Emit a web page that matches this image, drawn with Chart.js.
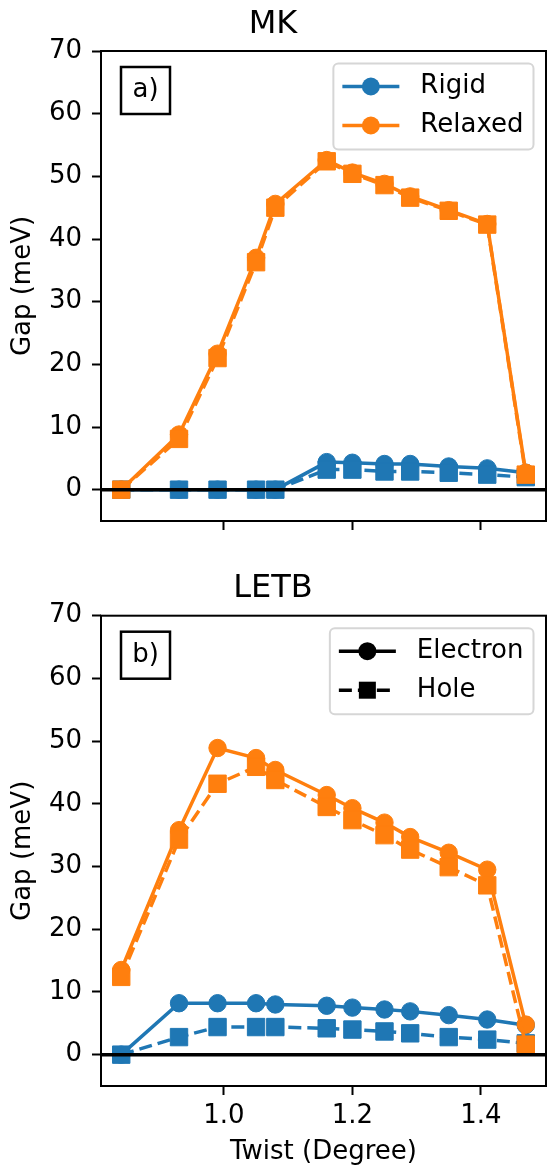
<!DOCTYPE html>
<html>
<head>
<meta charset="utf-8">
<script src="https://cdn.jsdelivr.net/npm/chart.js@4.4.1/dist/chart.umd.min.js"></script>
<style>
  html, body { margin: 0; padding: 0; background: #fff; overflow: hidden; }
  #wrap { position: relative; width: 547px; height: 1167px; }
  .panel { position: absolute; left: 0; width: 547px; }
  #pa { top: 0; height: 560px; }
  #pb { top: 560px; height: 620px; }
</style>
</head>
<body>
<div id="wrap">
  <div class="panel" id="pa"><canvas id="mk"></canvas></div>
  <div class="panel" id="pb"><canvas id="letb"></canvas></div>
</div>
<script>
// twist angles (degree)
var twist = [0.84, 0.93, 0.99, 1.05, 1.08, 1.16, 1.20, 1.25, 1.29, 1.35, 1.41, 1.47];

// MK gaps (meV)
var mkRigidElectron   = [0, 0, 0, 0, 0, 4.4, 4.3, 4.1, 4.1, 3.7, 3.4, 2.7];
var mkRigidHole       = [0, 0, 0, 0, 0, 3.2, 3.2, 2.9, 2.9, 2.7, 2.4, 2.0];
var mkRelaxedElectron = [0, 8.8, 21.7, 37.0, 45.6, 52.6, 50.6, 48.8, 46.8, 44.6, 42.4, 2.7];
var mkRelaxedHole     = [0, 8.1, 21.0, 36.3, 45.0, 52.4, 50.4, 48.6, 46.6, 44.5, 42.3, 2.4];

// LETB gaps (meV)
var letbRigidElectron   = [0, 8.2, 8.2, 8.2, 8.0, 7.8, 7.5, 7.2, 6.9, 6.3, 5.6, 4.7];
var letbRigidHole       = [0, 2.8, 4.4, 4.4, 4.4, 4.2, 4.0, 3.7, 3.4, 2.8, 2.4, 1.8];
var letbRelaxedElectron = [13.5, 35.8, 48.9, 47.3, 45.4, 41.4, 39.3, 37.0, 34.7, 32.2, 29.5, 4.8];
var letbRelaxedHole     = [12.4, 34.3, 43.2, 45.9, 43.8, 39.5, 37.4, 35.0, 32.7, 29.9, 27.0, 1.6];

var xTicks = [1.0, 1.2, 1.4];
var yTicks = [0, 10, 20, 30, 40, 50, 60, 70];

var BLUE = '#1f77b4';
var ORANGE = '#ff7f0e';
var DASH = [13, 6];

Chart.defaults.font.family = "'DejaVu Sans', sans-serif";
Chart.defaults.color = '#000';

function pts(ys) {
  return twist.map(function(x, i) { return { x: x, y: ys[i] }; });
}

function series(ys, color, hole) {
  return {
    data: pts(ys),
    showLine: true,
    borderColor: color,
    backgroundColor: color,
    borderWidth: 3.5,
    borderDash: hole ? DASH : [],
    pointStyle: hole ? 'rect' : 'circle',
    pointRadius: hole ? 12.3 : 8.7,
    pointBorderWidth: 1,
    pointBackgroundColor: color,
    pointBorderColor: color,
    tension: 0
  };
}

// frame, zero line, panel tag and matplotlib-like legend
function makeDecor(tag, entries) {
  return {
    id: 'decor',
    afterDatasetsDraw: function(chart) {
      var ctx = chart.ctx, a = chart.chartArea;
      var y0 = chart.scales.y.getPixelForValue(0);
      ctx.save();

      ctx.strokeStyle = '#000';
      ctx.lineWidth = 3.5;
      ctx.beginPath();
      ctx.moveTo(a.left, y0);
      ctx.lineTo(a.right, y0);
      ctx.stroke();

      ctx.lineWidth = 2;
      ctx.strokeRect(a.left, a.top, a.right - a.left, a.bottom - a.top);

      // panel tag
      ctx.font = "26px 'DejaVu Sans'";
      ctx.fillStyle = '#fff';
      ctx.fillRect(a.left + 20, a.top + 16, 49, 47);
      ctx.lineWidth = 2.5;
      ctx.strokeRect(a.left + 20, a.top + 16, 49, 47);
      ctx.fillStyle = '#000';
      ctx.textAlign = 'center';
      ctx.textBaseline = 'middle';
      ctx.fillText(tag, a.left + 44.5, a.top + 39.5);

      // legend
      ctx.textAlign = 'left';
      var tw = 0;
      entries.forEach(function(e) { tw = Math.max(tw, ctx.measureText(e.label).width); });
      var bw = 9 + 57 + 21 + tw + 10, bh = 86;
      var bx = a.right - 12.5 - bw, by = a.top + 12.5;
      ctx.beginPath();
      ctx.roundRect(bx, by, bw, bh, 5);
      ctx.fillStyle = 'rgba(255,255,255,0.8)';
      ctx.fill();
      ctx.strokeStyle = '#d6d6d6';
      ctx.lineWidth = 2;
      ctx.stroke();
      entries.forEach(function(e, i) {
        var ry = by + 23 + i * 39;
        var lx = bx + 9;
        ctx.strokeStyle = e.color;
        ctx.fillStyle = e.color;
        ctx.lineWidth = 3.5;
        ctx.setLineDash(e.dash);
        ctx.beginPath();
        ctx.moveTo(lx, ry);
        ctx.lineTo(lx + 57, ry);
        ctx.stroke();
        ctx.setLineDash([]);
        if (e.style === 'rect') {
          ctx.fillRect(lx + 28.5 - 8.5, ry - 8.5, 17, 17);
        } else {
          ctx.beginPath();
          ctx.arc(lx + 28.5, ry, 9, 0, Math.PI * 2);
          ctx.fill();
        }
        ctx.fillStyle = '#000';
        ctx.fillText(e.label, lx + 57 + 21, ry);
      });
      ctx.restore();
    }
  };
}

function makeChart(id, title, titlePad, sets, showX, xHeight, tag, entries) {
  return new Chart(document.getElementById(id), {
    type: 'scatter',
    data: { datasets: sets },
    options: {
      responsive: true,
      maintainAspectRatio: false,
      animation: false,
      devicePixelRatio: 1,
      layout: { autoPadding: false, padding: { left: 0, right: 1, top: 0, bottom: 0 } },
      plugins: {
        legend: { display: false },
        tooltip: { enabled: false },
        title: {
          display: true, text: title, color: '#000',
          font: { size: 32, weight: 'normal' },
          padding: titlePad
        }
      },
      scales: {
        x: {
          type: 'linear', min: 0.8085, max: 1.5015,
          afterBuildTicks: function(s) { s.ticks = xTicks.map(function(v) { return { value: v }; }); },
          afterFit: function(s) { s.height = xHeight; },
          border: { display: false },
          grid: { drawOnChartArea: false, drawTicks: true, tickLength: 9, tickColor: '#000', tickWidth: 2 },
          ticks: {
            display: showX, color: '#000', font: { size: 26 }, padding: 5.4, maxRotation: 0,
            callback: function(v) { return v.toFixed(1); }
          },
          title: {
            display: showX, text: 'Twist (Degree)', color: '#000',
            font: { size: 26 }, padding: { top: 0, bottom: 12.4 }
          }
        },
        y: {
          type: 'linear', min: -5, max: 70,
          afterBuildTicks: function(s) { s.ticks = yTicks.map(function(v) { return { value: v }; }); },
          afterFit: function(s) { s.width = 101; },
          border: { display: false },
          grid: { drawOnChartArea: false, drawTicks: true, tickLength: 9, tickColor: '#000', tickWidth: 2 },
          ticks: { color: '#000', font: { size: 26 }, padding: 10, callback: function(v) { return String(v); } },
          title: {
            display: true, text: 'Gap (meV)', color: '#000',
            font: { size: 26 }, padding: { top: 8, bottom: 0 }
          }
        }
      }
    },
    plugins: [makeDecor(tag, entries)]
  });
}

// dataset 0 is drawn on top
makeChart('mk', 'MK', { top: 5, bottom: 7.6 }, [
  series(mkRelaxedHole, ORANGE, true),
  series(mkRelaxedElectron, ORANGE, false),
  series(mkRigidHole, BLUE, true),
  series(mkRigidElectron, BLUE, false)
], false, 39, 'a)', [
  { label: 'Rigid', color: BLUE, dash: [], style: 'circle' },
  { label: 'Relaxed', color: ORANGE, dash: [], style: 'circle' }
]);

makeChart('letb', 'LETB', { top: 9.7, bottom: 7.6 }, [
  series(letbRelaxedHole, ORANGE, true),
  series(letbRelaxedElectron, ORANGE, false),
  series(letbRigidHole, BLUE, true),
  series(letbRigidElectron, BLUE, false)
], true, 94, 'b)', [
  { label: 'Electron', color: '#000', dash: [], style: 'circle' },
  { label: 'Hole', color: '#000', dash: DASH, style: 'rect' }
]);
</script>
</body>
</html>
